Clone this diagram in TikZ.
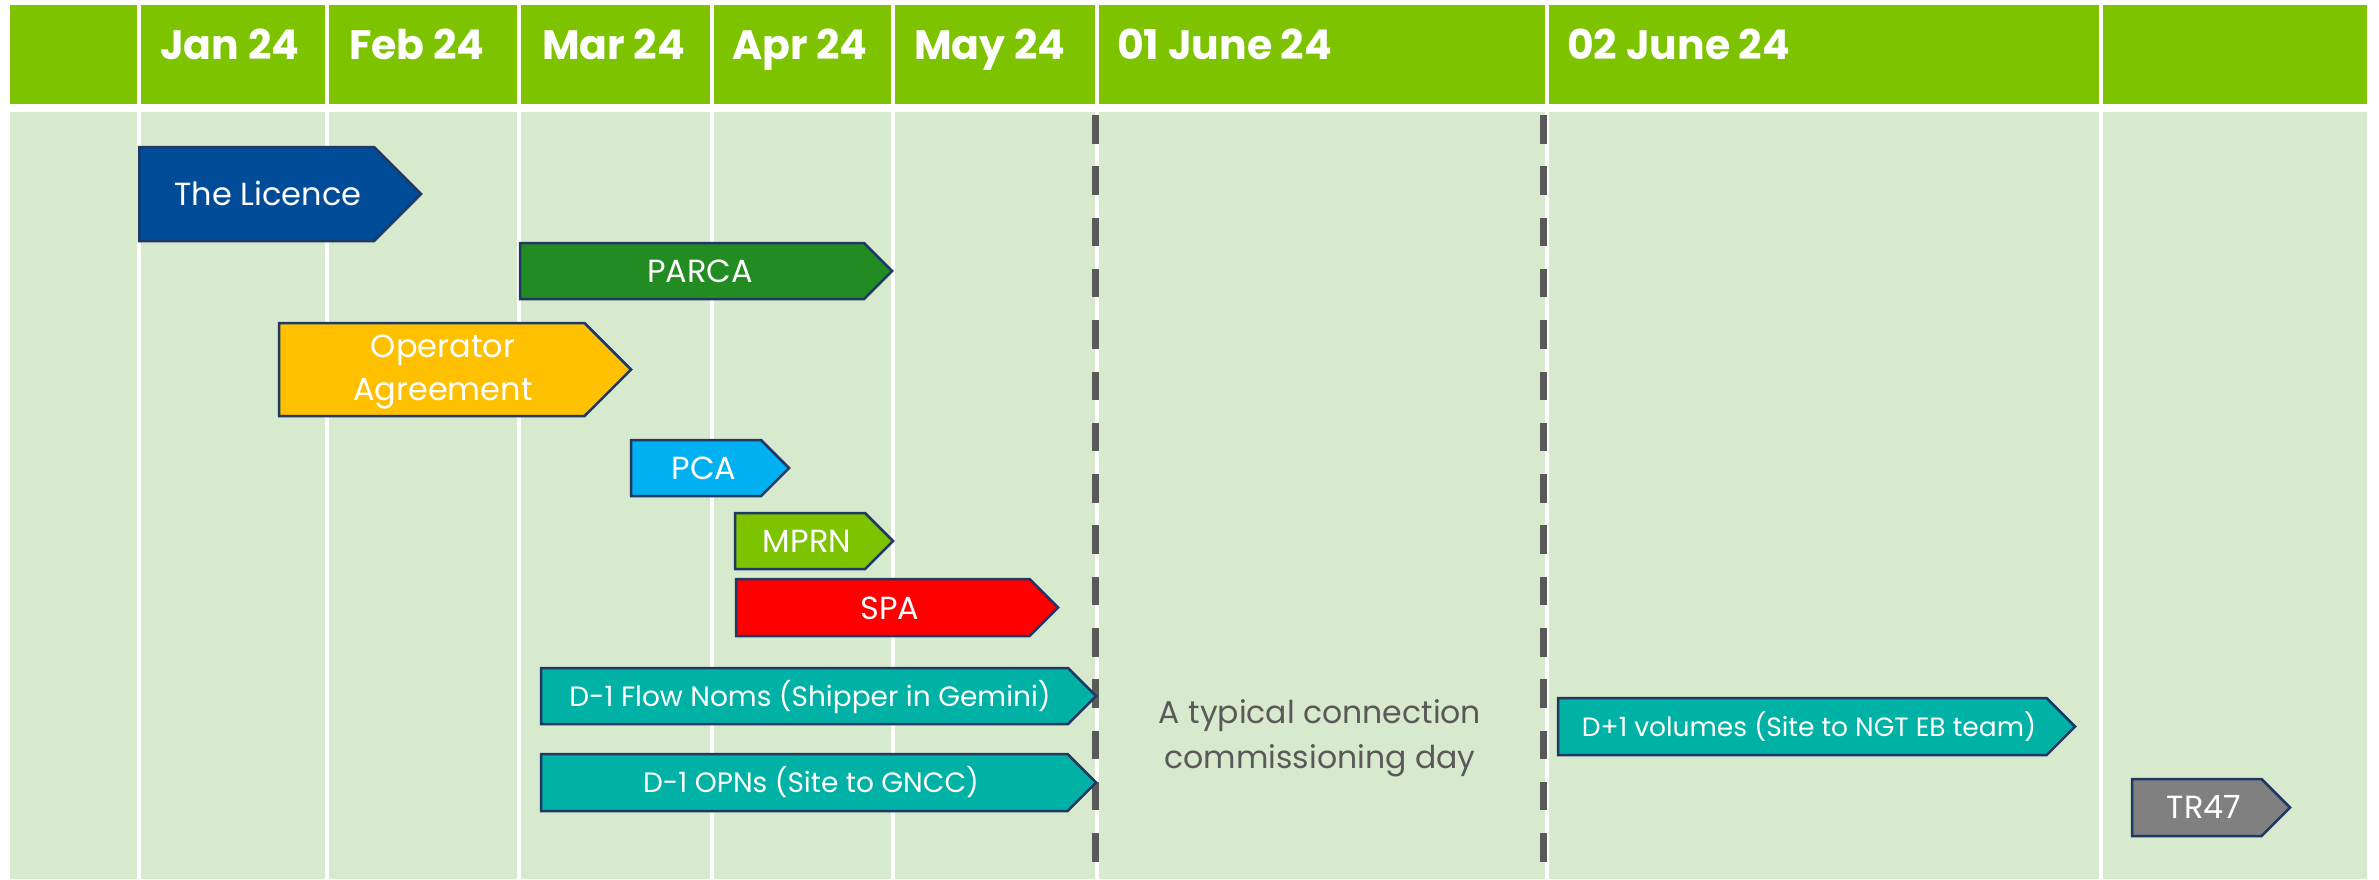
\documentclass[tikz,border=0pt]{standalone}
\usepackage{fontspec}
\setmainfont{Poppins}
\definecolor{hdr}{RGB}{126,195,0}
\definecolor{bodyc}{RGB}{216,234,205}
\definecolor{navy}{RGB}{31,56,100}
\definecolor{cLic}{RGB}{0,76,153}
\definecolor{cParca}{RGB}{34,139,34}
\definecolor{cOper}{RGB}{255,192,0}
\definecolor{cPca}{RGB}{0,176,240}
\definecolor{cMprn}{RGB}{126,195,0}
\definecolor{cSpa}{RGB}{255,0,0}
\definecolor{cTeal}{RGB}{0,178,165}
\definecolor{cTr}{RGB}{128,128,128}
\definecolor{dashc}{RGB}{89,89,89}
\tikzset{
  x=1pt, y=-1pt,
  chevron/.style={draw=navy, line width=2.5pt, line join=miter},
  hdrlabel/.style={anchor=base west, inner sep=0pt, text=white, font=\fontsize{41}{48}\selectfont\bfseries},
  biglabel/.style={anchor=base, inner sep=0pt, text=white, font=\fontsize{32}{43}\selectfont},
  smalllabel/.style={anchor=base, inner sep=0pt, text=white, font=\fontsize{28}{34}\selectfont},
  daylabel/.style={anchor=base, inner sep=0pt, text=dashc, font=\fontsize{31.5}{45}\selectfont},
  divline/.style={draw=dashc, line width=7pt, dash pattern=on 28.5pt off 22.8pt},
}
% #1 left, #2 top, #3 bottom, #4 tip, #5 fill
\newcommand\chevshape[5]{%
  \filldraw[chevron, fill=#5] (#1,#2) -- ({#4-(#3-#2)/2},#2) -- (#4,{(#2+#3)/2}) -- ({#4-(#3-#2)/2},#3) -- (#1,#3) -- cycle;}
\begin{document}
\begin{tikzpicture}
\useasboundingbox (0,0) rectangle (2379,879);
\fill[white] (0,0) rectangle (2379,879);
% header and body
\fill[hdr] (10,5) rectangle (2366.5,104);
\fill[bodyc] (10,112) rectangle (2366.5,879);
\foreach \xx in {138.5,326.5,519,711.5,892.5,1096.5,1546.5,2101} {
  \fill[white] (\xx-2,5) rectangle (\xx+2,879);
}
% header labels
\node[hdrlabel] (jan) at (160,59) {Jan 24};
\node[hdrlabel] (feb) at (349,59) {Feb 24};
\node[hdrlabel] (mar) at (542,59) {Mar 24};
\node[hdrlabel] (apr) at (732,59) {Apr 24};
\node[hdrlabel] (may) at (914,59) {May 24};
\node[hdrlabel] (jun1) at (1117,59) {01 June 24};
\node[hdrlabel] (jun2) at (1567,59) {02 June 24};
% dashed day boundaries
\draw[divline] (1095.5,115) -- (1095.5,862);
\draw[divline] (1543.5,115) -- (1543.5,862);
% bars
\chevshape{139}{147}{241}{421}{cLic}
\node[biglabel] (lic) at (268,205) {The Licence};
\chevshape{520}{243}{299}{892}{cParca}
\node[biglabel] (parca) at (700,282) {PARCA};
\chevshape{279}{323}{416}{631}{cOper}
\node[biglabel, align=center, anchor=center] (oper) at (443,372) {Operator\\Agreement};
\chevshape{631}{440}{496}{789}{cPca}
\node[biglabel] (pca) at (704,479.5) {PCA};
\chevshape{735}{513}{569}{893}{cMprn}
\node[biglabel] (mprn) at (807,552.5) {MPRN};
\chevshape{736}{579}{636}{1058}{cSpa}
\node[biglabel] (spa) at (890,619) {SPA};
\chevshape{541}{668}{724}{1096}{cTeal}
\node[smalllabel] (flow) at (810,706) {D-1 Flow Noms (Shipper in Gemini)};
\chevshape{541}{754}{811}{1096}{cTeal}
\node[smalllabel] (opn) at (811,792.5) {D-1 OPNs (Site to GNCC)};
\chevshape{1558}{698}{755}{2075}{cTeal}
\node[smalllabel, font=\fontsize{26.5}{32}\selectfont] (dplus) at (1809,736) {D+1 volumes (Site to NGT EB team)};
\chevshape{2132}{779}{836}{2290}{cTr}
\node[biglabel] (tr) at (2204,818.5) {TR47};
% day text
\node[daylabel] (day1) at (1320,723) {A typical connection};
\node[daylabel] (day2) at (1320,768) {commissioning day};
\end{tikzpicture}
\end{document}
